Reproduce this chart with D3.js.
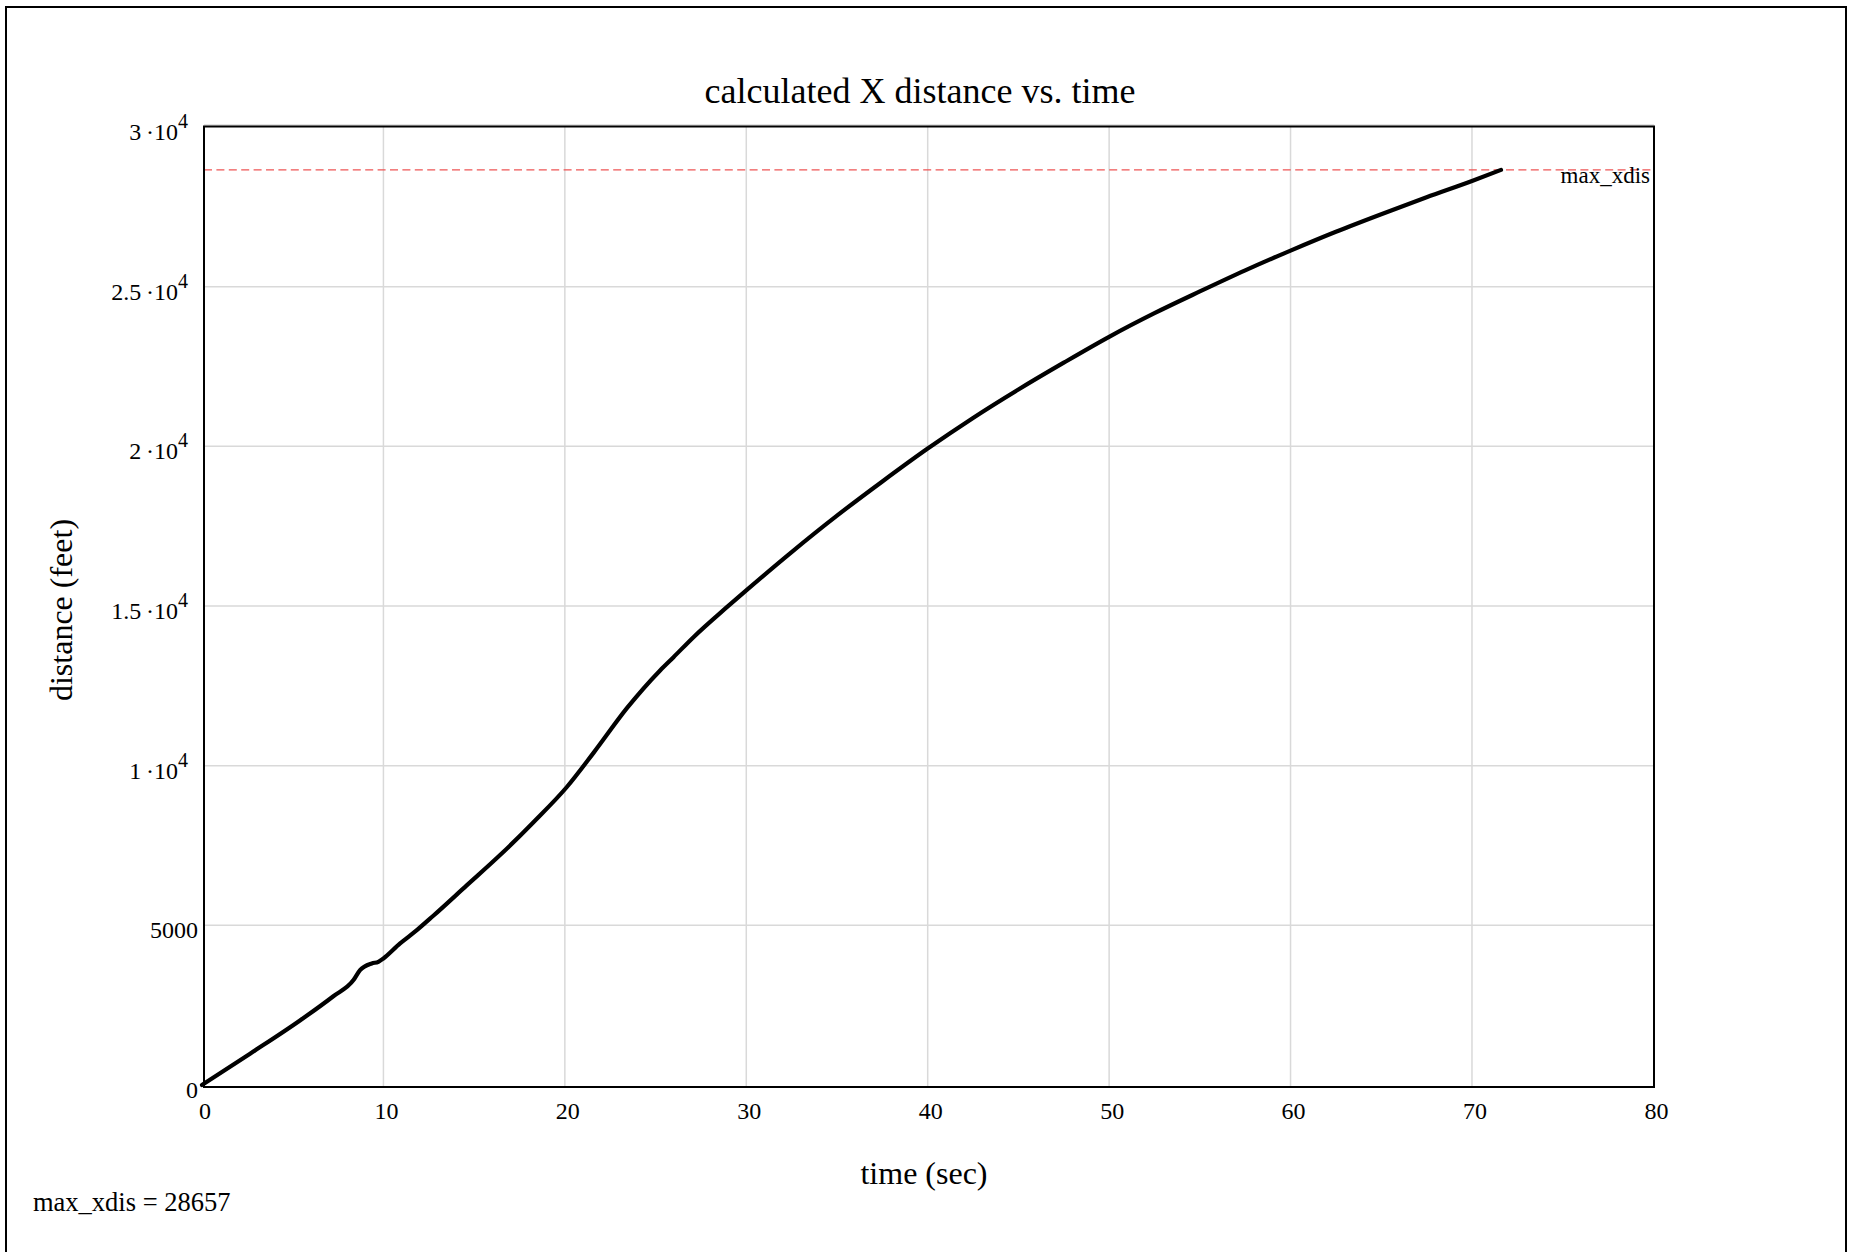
<!DOCTYPE html>
<html>
<head>
<meta charset="utf-8">
<script src="https://cdn.jsdelivr.net/npm/d3@7"></script>
<style>
  html, body { margin: 0; padding: 0; background: #fff; }
  svg { display: block; }
  text { font-family: "Liberation Serif", "Times New Roman", serif; fill: #000; }
</style>
</head>
<body>
<svg id="chart" width="1849" height="1252"></svg>
<script>
// Horizontal distance of the trajectory over time
const timeSec = [0, 2.65, 5.40, 7.24, 8.35, 8.71, 9.36, 9.72, 10.00, 10.92, 11.29, 11.84,
  12.75, 14.59, 16.43, 18.27, 20.11, 21.58, 23.42, 25.25, 25.99, 27.09, 28.93, 30.00,
  32.50, 35.00, 37.50, 40.00, 42.50, 45.00, 47.50, 50.00, 52.50, 55.00, 57.50, 60.00,
  62.50, 65.00, 67.50, 70.00, 71.60];
const distanceFt = [0, 980, 2020, 2780, 3285, 3597, 3807, 3857, 3963, 4433, 4600, 4849,
  5300, 6250, 7200, 8230, 9332, 10400, 11800, 12982, 13398, 14024, 14963, 15490,
  16690, 17830, 18900, 19930, 20890, 21780, 22620, 23430, 24170, 24850, 25510, 26130,
  26720, 27270, 27800, 28310, 28657];

const maxXdis = 28657;

const xTicks = [0, 10, 20, 30, 40, 50, 60, 70, 80];
const xTickLabels = ["0", "10", "20", "30", "40", "50", "60", "70", "80"];
const yTicks = [0, 5000, 10000, 15000, 20000, 25000, 30000];
// [main text, superscript]
const yTickLabels = [["0", ""], ["5000", ""], ["1\u2009\u00b710", "4"], ["1.5\u2009\u00b710", "4"],
  ["2\u2009\u00b710", "4"], ["2.5\u2009\u00b710", "4"], ["3\u2009\u00b710", "4"]];

const svg = d3.select("#chart");

// outer page frame
svg.append("rect")
  .attr("x", 6).attr("y", 7).attr("width", 1840).attr("height", 1260)
  .attr("fill", "none").attr("stroke", "#000").attr("stroke-width", 2);

const x = d3.scaleLinear().domain([0, 80]).range([202, 1653.4]);
const y = d3.scaleLinear().domain([0, 30000]).range([1085, 127]);

const plot = { left: 204, top: 126.5, right: 1654, bottom: 1087 };

// grid
const grid = svg.append("g").attr("stroke", "#d9d9d9").attr("stroke-width", 1.5);
grid.selectAll("line.v").data(xTicks.slice(1, -1)).join("line")
  .attr("x1", d => x(d)).attr("x2", d => x(d))
  .attr("y1", plot.top).attr("y2", plot.bottom);
grid.selectAll("line.h").data(yTicks.slice(1)).join("line")
  .attr("x1", plot.left).attr("x2", plot.right)
  .attr("y1", d => y(d) - (d === 30000 ? 2 : 0)).attr("y2", d => y(d) - (d === 30000 ? 2 : 0));

// max distance marker
svg.append("line")
  .attr("x1", plot.left).attr("x2", plot.right)
  .attr("y1", y(maxXdis)).attr("y2", y(maxXdis))
  .attr("stroke", "#ee5555").attr("stroke-width", 1.2)
  .attr("stroke-dasharray", "8,4.4");

svg.append("text")
  .attr("x", 1650).attr("y", y(maxXdis) + 13)
  .attr("text-anchor", "end").attr("font-size", 23)
  .text("max_xdis");

// trajectory distance curve
const pts = timeSec.map((t, i) => [t, distanceFt[i]]);
svg.append("path")
  .datum(pts)
  .attr("fill", "none").attr("stroke", "#000").attr("stroke-width", 4.2)
  .attr("stroke-linecap", "round").attr("stroke-linejoin", "round")
  .attr("d", d3.line().x(d => x(d[0])).y(d => y(d[1])).curve(d3.curveMonotoneX));

// plot frame
svg.append("rect")
  .attr("x", plot.left).attr("y", plot.top)
  .attr("width", plot.right - plot.left).attr("height", plot.bottom - plot.top)
  .attr("fill", "none").attr("stroke", "#000").attr("stroke-width", 2);

// x tick labels
svg.append("g").selectAll("text").data(xTicks).join("text")
  .attr("x", d => x(d) + 3).attr("y", 1119)
  .attr("text-anchor", "middle").attr("font-size", 24)
  .text((d, i) => xTickLabels[i]);

// y tick labels
const yl = svg.append("g").selectAll("text").data(yTicks).join("text")
  .attr("x", (d, i) => yTickLabels[i][1] ? 188 : 198)
  .attr("y", d => y(d) + 13)
  .attr("text-anchor", "end").attr("font-size", 24);
yl.append("tspan").text((d, i) => yTickLabels[i][0]);
yl.append("tspan").attr("font-size", 20).attr("dy", -12)
  .text((d, i) => yTickLabels[i][1]);

// titles
svg.append("text")
  .attr("x", 920).attr("y", 103).attr("text-anchor", "middle")
  .attr("font-size", 36).text("calculated X distance vs. time");

svg.append("text")
  .attr("x", 924).attr("y", 1184).attr("text-anchor", "middle")
  .attr("font-size", 32).text("time (sec)");

svg.append("text")
  .attr("transform", "translate(72,610) rotate(-90)")
  .attr("text-anchor", "middle")
  .attr("font-size", 32).text("distance (feet)");

svg.append("text")
  .attr("x", 33).attr("y", 1211)
  .attr("font-size", 26.5).text("max_xdis = " + maxXdis);
</script>
</body>
</html>
